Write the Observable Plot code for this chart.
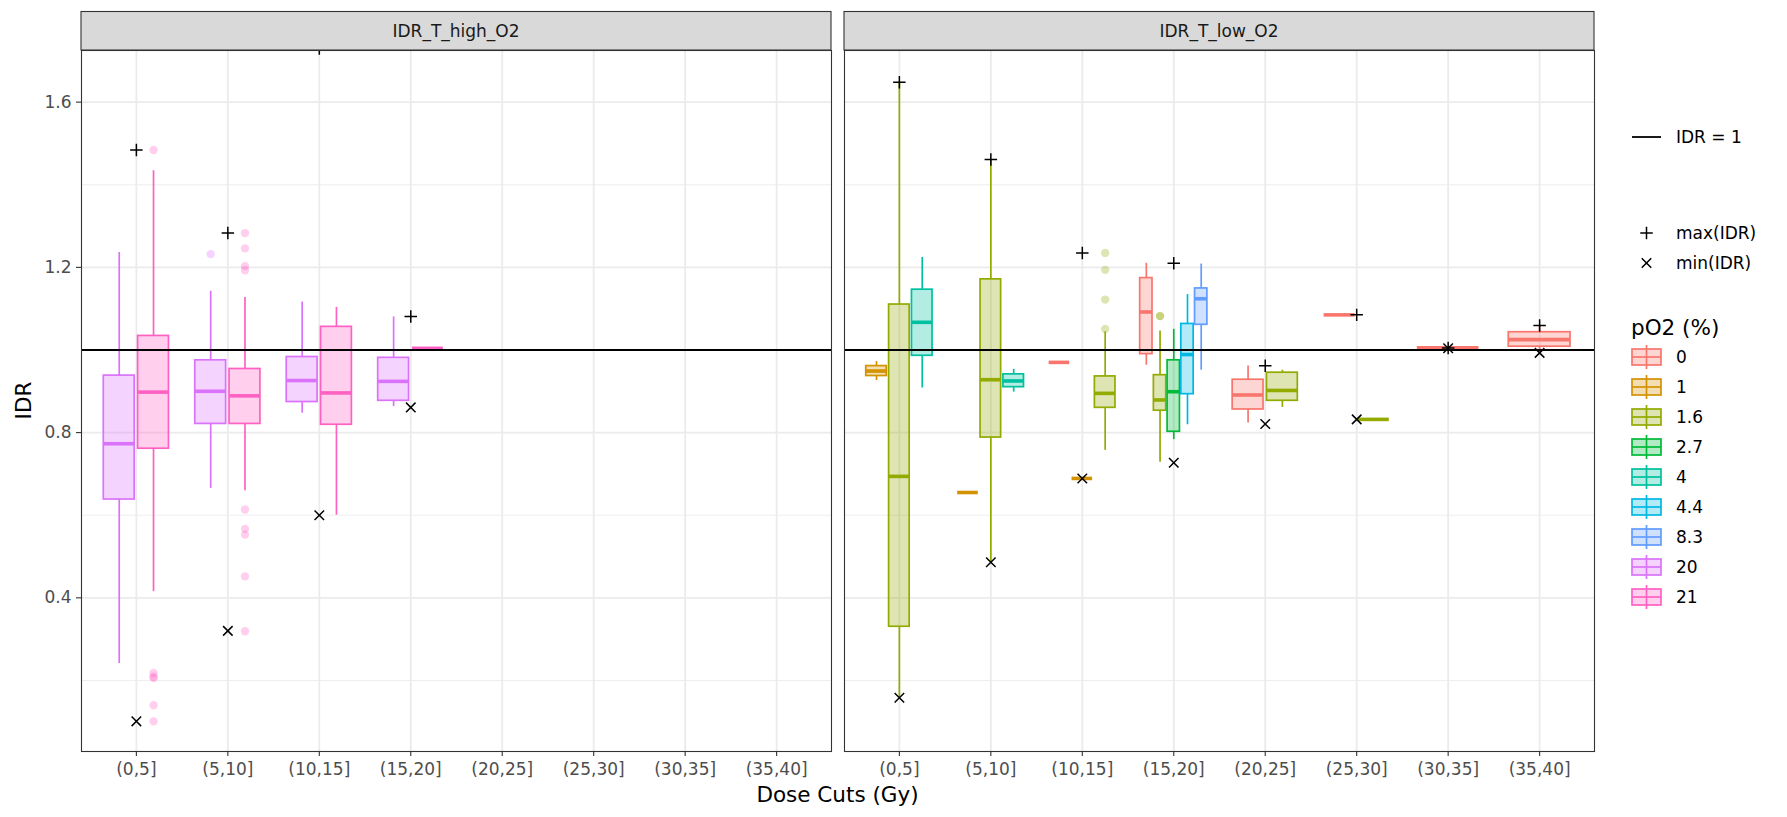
<!DOCTYPE html>
<html>
<head>
<meta charset="utf-8">
<script src="https://cdn.jsdelivr.net/npm/d3@7"></script>
<script src="https://cdn.jsdelivr.net/npm/@observablehq/plot@0.6"></script>
<style>
  html, body { margin: 0; padding: 0; background: #ffffff; }
  #chart { width: 1787px; height: 817px; }
</style>
</head>
<body>
<div id="chart"></div>
<script>
// Facet panels and dose bins
const panels = ["IDR_T_high_O2", "IDR_T_low_O2"];
const doseCuts = ["(0,5]", "(5,10]", "(10,15]", "(15,20]", "(20,25]", "(25,30]", "(30,35]", "(35,40]"];

// Oxygen levels and their hue colours
const pO2Levels = ["0", "1", "1.6", "2.7", "4", "4.4", "8.3", "20", "21"];
const pO2Colors = ["#F8766D", "#D39200", "#93AA00", "#00BA38", "#00C19F", "#00B9E3", "#619CFF", "#DB72FB", "#FF61C3"];

// Box statistics: [dose cut, pO2, lower whisker, Q1, median, Q3, upper whisker]
const highO2Boxes = [
  ["(0,5]",   "20", 0.241, 0.638, 0.773, 0.938, 1.236],
  ["(0,5]",   "21", 0.415, 0.761, 0.898, 1.034, 1.434],
  ["(5,10]",  "20", 0.665, 0.821, 0.900, 0.975, 1.142],
  ["(5,10]",  "21", 0.659, 0.821, 0.889, 0.954, 1.127],
  ["(10,15]", "20", 0.847, 0.874, 0.926, 0.983, 1.116],
  ["(10,15]", "21", 0.600, 0.819, 0.896, 1.056, 1.103],
  ["(15,20]", "20", 0.863, 0.877, 0.924, 0.981, 1.080],
  ["(15,20]", "21", 1.004, 1.004, 1.004, 1.004, 1.004]
];
const lowO2Boxes = [
  ["(0,5]",   "1",   0.926, 0.937, 0.949, 0.961, 0.972],
  ["(0,5]",   "1.6", 0.158, 0.330, 0.694, 1.110, 1.648],
  ["(0,5]",   "4",   0.908, 0.986, 1.067, 1.146, 1.224],
  ["(5,10]",  "1",   0.655, 0.655, 0.655, 0.655, 0.655],
  ["(5,10]",  "1.6", 0.486, 0.788, 0.928, 1.171, 1.461],
  ["(5,10]",  "4",   0.898, 0.910, 0.925, 0.941, 0.953],
  ["(10,15]", "0",   0.970, 0.970, 0.970, 0.970, 0.970],
  ["(10,15]", "1",   0.689, 0.689, 0.689, 0.689, 0.689],
  ["(10,15]", "1.6", 0.757, 0.860, 0.895, 0.936, 1.044],
  ["(15,20]", "0",   0.963, 0.990, 1.092, 1.174, 1.210],
  ["(15,20]", "1.6", 0.728, 0.853, 0.879, 0.939, 1.046],
  ["(15,20]", "2.7", 0.783, 0.802, 0.899, 0.975, 1.050],
  ["(15,20]", "4.4", 0.819, 0.893, 0.989, 1.063, 1.134],
  ["(15,20]", "8.3", 0.951, 1.061, 1.124, 1.149, 1.208],
  ["(20,25]", "0",   0.823, 0.856, 0.891, 0.928, 0.961],
  ["(20,25]", "1.6", 0.861, 0.877, 0.902, 0.945, 0.951],
  ["(25,30]", "0",   1.085, 1.085, 1.085, 1.085, 1.085],
  ["(25,30]", "1.6", 0.832, 0.832, 0.832, 0.832, 0.832],
  ["(30,35]", "0",   1.005, 1.005, 1.005, 1.005, 1.005],
  ["(35,40]", "0",   0.993, 1.008, 1.025, 1.043, 1.059]
];

// Outlying points: [dose cut, pO2, IDR]
const highO2Outliers = [
  ["(0,5]", "21", 1.484], ["(0,5]", "21", 0.218], ["(0,5]", "21", 0.209],
  ["(0,5]", "21", 0.206], ["(0,5]", "21", 0.140], ["(0,5]", "21", 0.101],
  ["(5,10]", "20", 1.232],
  ["(5,10]", "21", 1.283], ["(5,10]", "21", 1.246], ["(5,10]", "21", 1.203],
  ["(5,10]", "21", 1.193], ["(5,10]", "21", 0.614], ["(5,10]", "21", 0.567],
  ["(5,10]", "21", 0.553], ["(5,10]", "21", 0.452], ["(5,10]", "21", 0.319]
];
const lowO2Outliers = [
  ["(10,15]", "1.6", 1.235], ["(10,15]", "1.6", 1.194],
  ["(10,15]", "1.6", 1.122], ["(10,15]", "1.6", 1.051],
  ["(15,20]", "1.6", 1.082], ["(15,20]", "1.6", 1.082]
];

// Extremes per dose cut: [dose cut, IDR]
const highO2Max = [["(0,5]", 1.484], ["(5,10]", 1.283], ["(10,15]", 1.730], ["(15,20]", 1.081]];
const highO2Min = [["(0,5]", 0.101], ["(5,10]", 0.320], ["(10,15]", 0.600], ["(15,20]", 0.861]];
const lowO2Max = [["(0,5]", 1.648], ["(5,10]", 1.461], ["(10,15]", 1.235], ["(15,20]", 1.210],
                  ["(20,25]", 0.962], ["(25,30]", 1.085], ["(30,35]", 1.005], ["(35,40]", 1.059]];
const lowO2Min = [["(0,5]", 0.158], ["(5,10]", 0.486], ["(10,15]", 0.689], ["(15,20]", 0.727],
                  ["(20,25]", 0.821], ["(25,30]", 0.832], ["(30,35]", 1.004], ["(35,40]", 0.993]];

const yTicks = [0.4, 0.8, 1.2, 1.6];
const yMinorTicks = [0.2, 0.6, 1.0, 1.4];
const yDomain = [0.028, 1.725];

// ---- derived tables -------------------------------------------------------
const cutIndex = new Map(doseCuts.map((d, i) => [d, i]));
const levelIndex = new Map(pO2Levels.map((d, i) => [d, i]));
const dodgeWidth = 0.75, boxPadding = 0.1;

const boxRows = [
  ...highO2Boxes.map(r => [panels[0], ...r]),
  ...lowO2Boxes.map(r => [panels[1], ...r])
].map(([panel, cut, pO2, lo, q1, median, q3, hi]) => ({panel, cut, pO2, lo, q1, median, q3, hi}));

// dodge boxes sharing a dose cut, like position_dodge2
const byCell = d3.group(boxRows, d => d.panel, d => d.cut);
for (const row of boxRows) {
  const members = byCell.get(row.panel).get(row.cut)
    .map(d => d.pO2).sort((a, b) => levelIndex.get(a) - levelIndex.get(b));
  const slot = dodgeWidth / members.length;
  const k = members.indexOf(row.pO2);
  row.xc = cutIndex.get(row.cut) - dodgeWidth / 2 + slot * (k + 0.5);
  const half = slot * (1 - boxPadding) / 2;
  row.xl = row.xc - half;
  row.xr = row.xc + half;
}
const boxKey = new Map(boxRows.map(d => [`${d.panel}|${d.cut}|${d.pO2}`, d]));

const outlierRows = [
  ...highO2Outliers.map(r => [panels[0], ...r]),
  ...lowO2Outliers.map(r => [panels[1], ...r])
].map(([panel, cut, pO2, value]) => ({panel, cut, pO2, value, x: boxKey.get(`${panel}|${cut}|${pO2}`).xc}));

const extremeRows = (rows, panel) => rows.map(([cut, value]) => ({panel, cut, value, x: cutIndex.get(cut)}));
const maxRows = [...extremeRows(highO2Max, panels[0]), ...extremeRows(lowO2Max, panels[1])];
const minRows = [...extremeRows(highO2Min, panels[0]), ...extremeRows(lowO2Min, panels[1])];

// ---- plot -----------------------------------------------------------------
const W = 1787, H = 817;
const plusR = 4.1, timesR = 4.4;
const boxStroke = 1.7;

const chart = Plot.plot({
  width: W,
  height: H,
  marginTop: 50,
  marginBottom: 66,
  marginLeft: 81,
  marginRight: 193,
  style: {fontFamily: "'DejaVu Sans', sans-serif", fontSize: "17px", background: "#ffffff", overflow: "visible"},
  fx: {domain: panels, paddingInner: 13 / 763, paddingOuter: 0, round: false, axis: null, label: null},
  x: {domain: [-0.6, doseCuts.length - 0.4], label: null},
  y: {domain: yDomain, label: null},
  color: {type: "ordinal", domain: pO2Levels, range: pO2Colors},
  marks: [
    Plot.gridY(yMinorTicks, {stroke: "#EBEBEB", strokeOpacity: 1, strokeWidth: 0.9}),
    Plot.gridY(yTicks, {stroke: "#EBEBEB", strokeOpacity: 1, strokeWidth: 1.8}),
    Plot.gridX(doseCuts.map((d, i) => i), {stroke: "#EBEBEB", strokeOpacity: 1, strokeWidth: 1.8}),
    Plot.axisY(yTicks, {
      anchor: "left", tickSize: 5, tickPadding: 5, tickFormat: d => d.toFixed(1),
      stroke: "#333333", fill: "#4D4D4D", fontSize: 17, strokeWidth: 1.1, label: null
    }),
    Plot.axisX(doseCuts.map((d, i) => i), {
      anchor: "bottom", tickSize: 5, tickPadding: 6, tickFormat: i => doseCuts[i],
      stroke: "#333333", fill: "#4D4D4D", fontSize: 17, strokeWidth: 1.1, label: null
    }),
    // whiskers
    Plot.ruleX(boxRows, {fx: "panel", x: "xc", y1: "q3", y2: "hi", stroke: "pO2", strokeWidth: boxStroke}),
    Plot.ruleX(boxRows, {fx: "panel", x: "xc", y1: "lo", y2: "q1", stroke: "pO2", strokeWidth: boxStroke}),
    // boxes
    Plot.rect(boxRows, {
      fx: "panel", x1: "xl", x2: "xr", y1: "q1", y2: "q3",
      fill: "pO2", fillOpacity: 0.3, stroke: "pO2", strokeWidth: boxStroke
    }),
    // medians
    Plot.ruleY(boxRows, {fx: "panel", y: "median", x1: "xl", x2: "xr", stroke: "pO2", strokeWidth: 3.6}),
    // outliers
    Plot.dot(outlierRows, {fx: "panel", x: "x", y: "value", r: 4.2, fill: "pO2", fillOpacity: 0.3, stroke: null}),
    // reference line IDR = 1
    Plot.ruleY([1], {stroke: "#000000", strokeWidth: 1.8}),
    // extremes per dose cut
    Plot.dot(maxRows, {fx: "panel", x: "x", y: "value", symbol: "plus", r: plusR, stroke: "#000000", strokeWidth: 1.5, clip: true}),
    Plot.dot(minRows, {fx: "panel", x: "x", y: "value", symbol: "times", r: timesR, stroke: "#000000", strokeWidth: 1.5, clip: true}),
    Plot.frame({stroke: "#333333", strokeWidth: 1.1})
  ]
});

document.getElementById("chart").appendChild(chart);

// ---- facet strips, axis titles and legend ---------------------------------
const svg = d3.select(chart);
const fx = chart.scale("fx");
const color = chart.scale("color");
const stripTop = 11.5, stripBottom = 50;

const strips = svg.append("g");
for (const p of panels) {
  const x0 = fx.apply(p), bw = fx.bandwidth;
  strips.append("rect")
    .attr("x", x0).attr("y", stripTop)
    .attr("width", bw).attr("height", stripBottom - stripTop)
    .attr("fill", "#D9D9D9").attr("stroke", "#333333").attr("stroke-width", 1.1);
  strips.append("text")
    .attr("x", x0 + bw / 2).attr("y", (stripTop + stripBottom) / 2)
    .attr("text-anchor", "middle").attr("dominant-baseline", "central")
    .attr("fill", "#1A1A1A").attr("font-size", 17)
    .text(p);
}

const panelLeft = fx.apply(panels[0]);
const panelRight = fx.apply(panels[panels.length - 1]) + fx.bandwidth;

svg.append("text")
  .attr("x", (panelLeft + panelRight) / 2).attr("y", 794)
  .attr("text-anchor", "middle").attr("dominant-baseline", "central")
  .attr("font-size", 21.5).attr("fill", "#000000")
  .text("Dose Cuts (Gy)");

svg.append("text")
  .attr("transform", `translate(23, ${(50 + 751) / 2}) rotate(-90)`)
  .attr("text-anchor", "middle").attr("dominant-baseline", "central")
  .attr("font-size", 21.5).attr("fill", "#000000")
  .text("IDR");

// legend
const lg = svg.append("g").attr("text-anchor", "start");
const keyX = 1632, keyW = 29, labelX = 1676;

const legendText = (x, y, size, label) =>
  lg.append("text").attr("x", x).attr("y", y)
    .attr("text-anchor", "start").attr("dominant-baseline", "central")
    .attr("font-size", size).attr("fill", "#000000")
    .text(label);

lg.append("line")
  .attr("x1", keyX).attr("x2", keyX + keyW).attr("y1", 137).attr("y2", 137)
  .attr("stroke", "#000000").attr("stroke-width", 1.8);
legendText(labelX, 137, 17, "IDR = 1");

const markerKeys = [
  {symbol: d3.symbolPlus, r: plusR, label: "max(IDR)", y: 233},
  {symbol: d3.symbolTimes, r: timesR, label: "min(IDR)", y: 263}
];
for (const m of markerKeys) {
  lg.append("path")
    .attr("transform", `translate(${keyX + keyW / 2}, ${m.y})`)
    .attr("d", d3.symbol(m.symbol, m.r * m.r * Math.PI)())
    .attr("fill", "none").attr("stroke", "#000000").attr("stroke-width", 1.5);
  legendText(labelX, m.y, 17, m.label);
}

legendText(1631, 327, 21.5, "pO2 (%)");

pO2Levels.forEach((level, i) => {
  const cy = 357 + i * 30;
  const c = color.apply(level);
  const g = lg.append("g");
  g.append("line")
    .attr("x1", keyX + keyW / 2).attr("x2", keyX + keyW / 2)
    .attr("y1", cy - 12).attr("y2", cy + 12)
    .attr("stroke", c).attr("stroke-width", boxStroke);
  g.append("rect")
    .attr("x", keyX).attr("y", cy - 8).attr("width", keyW).attr("height", 16)
    .attr("fill", c).attr("fill-opacity", 0.3)
    .attr("stroke", c).attr("stroke-width", boxStroke);
  g.append("line")
    .attr("x1", keyX).attr("x2", keyX + keyW).attr("y1", cy).attr("y2", cy)
    .attr("stroke", c).attr("stroke-width", boxStroke);
  legendText(labelX, cy, 17, level);
});
</script>
</body>
</html>
